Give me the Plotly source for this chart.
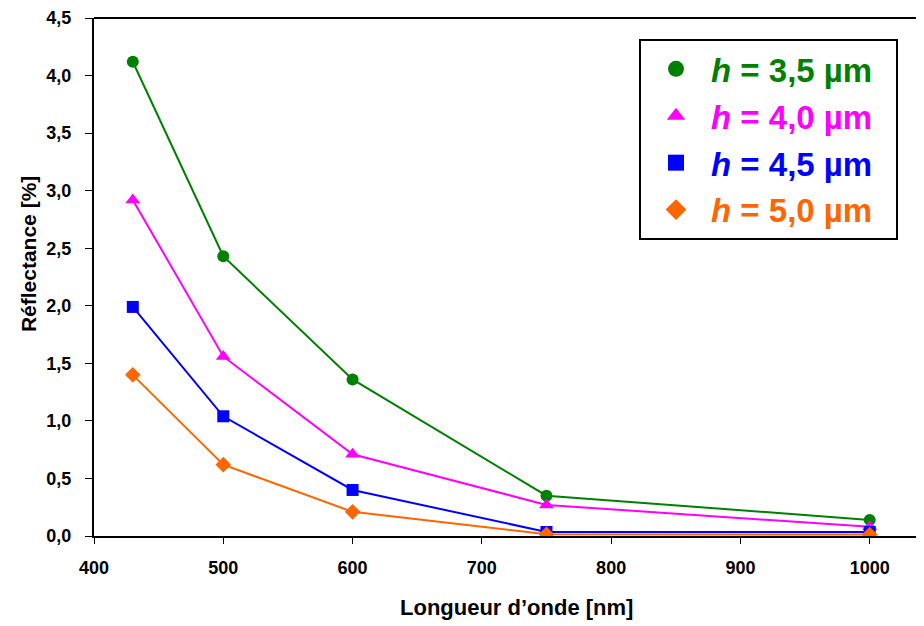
import plotly.graph_objects as go

wavelength = [430, 500, 600, 750, 1000]
r_35 = [4.12, 2.43, 1.36, 0.35, 0.14]
r_40 = [2.92, 1.56, 0.71, 0.27, 0.08]
r_45 = [1.99, 1.04, 0.40, 0.035, 0.035]
r_50 = [1.40, 0.62, 0.21, 0.015, 0.012]

series_names = ["3,5", "4,0", "4,5", "5,0"]
series_values = [r_35, r_40, r_45, r_50]
colors = ["#008000", "#FF00FF", "#0000FF", "#FF6600"]
symbols = ["circle", "triangle-up", "square", "diamond"]
sizes = [12, 13, 12, 12]

y_ticks = [0, 0.5, 1, 1.5, 2, 2.5, 3, 3.5, 4, 4.5]
x_ticks = [400, 500, 600, 700, 800, 900, 1000]

FONT = "Liberation Sans, Arial, sans-serif"

# page body has an 8px margin: compensate
OFF = 8
W, H = 924 - OFF, 626 - OFF
L, T, B = 94 - OFF, 16 - OFF, 90
PW, PH = W - L, H - T - B  # plot area size


def px_x(px):
    return (px - 94) / PW


def px_y(py):
    return (536 - py) / PH


fig = go.Figure()
for name, vals, c, s, sz in zip(series_names, series_values, colors, symbols, sizes):
    fig.add_trace(go.Scatter(
        x=wavelength, y=vals, mode="lines+markers",
        line=dict(color=c, width=2),
        marker=dict(symbol=s, size=sz, color=c),
        showlegend=False,
    ))
for name, c, s in zip(series_names, colors, symbols):
    fig.add_trace(go.Scatter(
        x=[None], y=[None], mode="markers",
        name=f"<span style='color:{c}'><b><i>h</i> = {name} µm</b></span>\u00a0\u00a0",
        marker=dict(symbol=s, size=20, color=c),
        legendgroup=name,
    ))

fig.update_layout(
    width=W, height=H,
    margin=dict(l=L, r=0, t=T, b=B),
    plot_bgcolor="white", paper_bgcolor="white",
    separators=", ",
    font=dict(family=FONT, color="black"),
    showlegend=True,
    legend=dict(
        x=px_x(639), y=px_y(37), xanchor="left", yanchor="top",
        bordercolor="black", borderwidth=2, bgcolor="white",
        font=dict(size=33, family=FONT),
        tracegroupgap=1, itemsizing="trace", itemwidth=60,
    ),
    xaxis=dict(
        range=[400, 1042], tickvals=x_ticks, showgrid=False, zeroline=False,
        showline=True, linecolor="black", linewidth=2,
        ticks="outside", ticklen=6, tickcolor="black", tickwidth=1,
        tickfont=dict(size=18, family=FONT, color="black", weight="bold"),
        ticklabelstandoff=8,
    ),
    yaxis=dict(
        range=[0, 4.5], tickvals=y_ticks, tickformat=".1f", showgrid=False, zeroline=False,
        showline=True, linecolor="black", linewidth=2,
        ticks="outside", ticklen=7, tickcolor="black", tickwidth=1,
        tickfont=dict(size=18, family=FONT, color="black", weight="bold"),
        ticklabelstandoff=10, ticklabeloverflow="allow",
    ),
    shapes=[
        dict(type="line", xref="paper", yref="paper", x0=0, x1=1, y0=1, y1=1,
             line=dict(color="black", width=2)),
    ],
    annotations=[
        dict(text="<b>Longueur d’onde [nm]</b>", xref="paper", yref="paper",
             x=px_x(517), y=px_y(608), showarrow=False,
             font=dict(size=22, family=FONT, color="black"), xanchor="center", yanchor="middle"),
        dict(text="<b>Réflectance [%]</b>", xref="paper", yref="paper",
             x=px_x(28), y=px_y(253), showarrow=False, textangle=-90,
             font=dict(size=21, family=FONT, color="black"), xanchor="center", yanchor="middle"),
    ],
)

fig.write_html("out.html")
